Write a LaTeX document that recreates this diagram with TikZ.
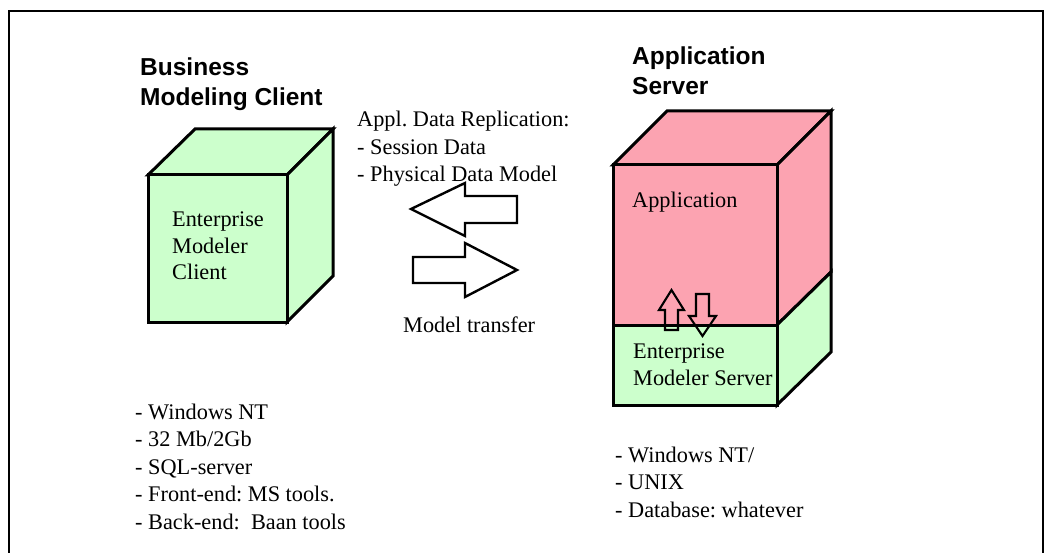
\documentclass[tikz,border=0pt]{standalone}
\usepackage{fontspec}
\setmainfont{Liberation Serif}
\newfontfamily\headfont{Liberation Sans}
\definecolor{mintgreen}{RGB}{204,255,204}
\definecolor{rosepink}{RGB}{252,163,177}
\newcommand\stacklines[1]{\begin{tabular}[t]{@{}l@{}}#1\end{tabular}}
\frenchspacing
\tikzset{
  body/.style={inner sep=0pt, anchor=base west, font=\fontsize{22.3}{27.5}\selectfont},
  heading/.style={inner sep=0pt, anchor=base west, font=\headfont\bfseries\fontsize{24.5}{29.5}\selectfont},
  boxedge/.style={draw=black, line width=3pt, line join=miter},
  blockarrow/.style={draw=black, line width=2.4pt, line join=miter},
  frameline/.style={draw=black, line width=1.8pt}
}
\begin{document}
\begin{tikzpicture}[x=1pt,y=-1pt]
\useasboundingbox (0,0) rectangle (1044,553);
\fill[white] (0,0) rectangle (1044,553);

% outer frame (open at the bottom)
\draw[frameline] (8.9,560) -- (8.9,10.9) -- (1043.1,10.9) -- (1043.1,560);

% ---- client cube ----
\coordinate (cf-tl) at (148,175);
\coordinate (cf-tr) at (287,175);
\coordinate (cf-br) at (287,322);
\coordinate (cf-bl) at (148,322);
\coordinate (cb-tl) at (195,129);
\coordinate (cb-tr) at (333,129);
\coordinate (cb-br) at (333,276);
\filldraw[boxedge, fill=mintgreen] (cf-tl) -- (cb-tl) -- (cb-tr) -- (cf-tr) -- cycle;
\filldraw[boxedge, fill=mintgreen] (cf-tr) -- (cb-tr) -- (cb-br) -- (cf-br) -- cycle;
\filldraw[boxedge, fill=mintgreen] (cf-tl) rectangle (cf-br);

% ---- server cube ----
\coordinate (sf-tl) at (613,165);
\coordinate (sf-tr) at (777,165);
\coordinate (sf-mr) at (777,325);
\coordinate (sf-ml) at (613,325);
\coordinate (sf-br) at (777,405);
\coordinate (sf-bl) at (613,405);
\coordinate (sb-tl) at (667,111);
\coordinate (sb-tr) at (831,111);
\coordinate (sb-mr) at (831,272);
\coordinate (sb-br) at (831,352);
\filldraw[boxedge, fill=rosepink] (sf-tl) -- (sb-tl) -- (sb-tr) -- (sf-tr) -- cycle;
\filldraw[boxedge, fill=rosepink] (sf-tr) -- (sb-tr) -- (sb-mr) -- (sf-mr) -- cycle;
\filldraw[boxedge, fill=mintgreen] (sf-mr) -- (sb-mr) -- (sb-br) -- (sf-br) -- cycle;
\filldraw[boxedge, fill=rosepink] (sf-tl) rectangle (sf-mr);
\filldraw[boxedge, fill=mintgreen] (sf-ml) rectangle (sf-br);

% small up/down arrows between the two layers
\draw[blockarrow, line width=2.1pt] (665,330) -- (665,310) -- (659,310) -- (671.5,290) -- (684,310) -- (678,310) -- (678,330) -- cycle;
\draw[blockarrow, line width=2.1pt] (696,294) -- (709,294) -- (709,316) -- (716,316) -- (702.5,336) -- (689,316) -- (696,316) -- cycle;

% ---- transfer arrows ----
\draw[blockarrow] (411,209) -- (465,183) -- (465,196) -- (517,196) -- (517,223) -- (465,223) -- (465,236) -- cycle;
\draw[blockarrow] (413,257) -- (465,257) -- (465,243) -- (517,270) -- (465,297) -- (465,283) -- (413,283) -- cycle;

% ---- headings ----
\node[heading] (client-title) at (140,76) {\stacklines{Business\\Modeling Client}};
\node[heading] (server-title) at (632,65) {\stacklines{Application\\Server}};

% ---- labels inside the cubes ----
\node[body, font=\fontsize{22.3}{26.5}\selectfont] (client-label) at (172,227) {\stacklines{Enterprise\\Modeler\\Client}};
\node[body] (app-label) at (632,208) {Application};
\node[body, font=\fontsize{22.3}{27}\selectfont] (ems-label) at (633,358) {\stacklines{Enterprise\\Modeler Server}};

% ---- transfer labels ----
\node[body] (replication) at (357,127) {\stacklines{Appl. Data Replication:\\- Session Data\\- Physical Data Model}};
\node[body] (transfer) at (403,332) {Model transfer};

% ---- platform lists ----
\node[body] (client-specs) at (135,419) {\stacklines{- Windows NT\\- 32 Mb/2Gb\\- SQL-server\\- Front-end: MS tools.\\- Back-end:\ \ Baan tools}};
\node[body] (server-specs) at (615,462) {\stacklines{- Windows NT/\\- UNIX\\- Database: whatever}};
\end{tikzpicture}
\end{document}
